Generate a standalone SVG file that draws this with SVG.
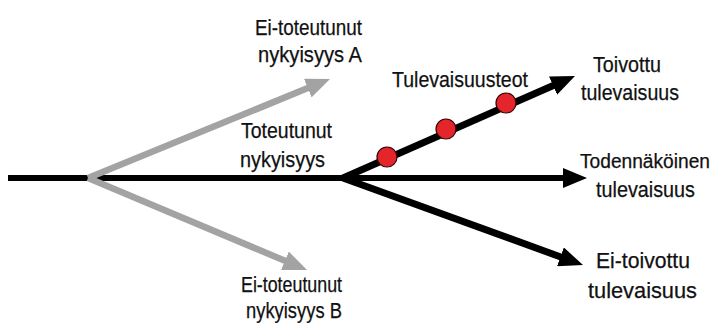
<svg xmlns="http://www.w3.org/2000/svg" width="717" height="323" viewBox="0 0 717 323">
<style>
.lbl{font-family:"Liberation Sans",Arial,sans-serif;font-size:22px;fill:#111;stroke:#111;stroke-width:0.25}
.blk{stroke:#000;fill:none;stroke-linecap:butt}
.gry{stroke:#a3a3a3;fill:none;stroke-width:6.5}
.dot{fill:#e4252b;stroke:#300;stroke-width:1.2}
</style>
<defs>
<marker id="hb" viewBox="0 0 24 20" refX="4" refY="10" markerWidth="24" markerHeight="20" markerUnits="userSpaceOnUse" orient="auto">
<path d="M0,0 L24,10 L0,20 z" fill="#000"/>
</marker>
<marker id="hg" viewBox="0 0 24 20" refX="4" refY="10" markerWidth="24" markerHeight="20" markerUnits="userSpaceOnUse" orient="auto">
<path d="M0,0 L24,10 L0,20 z" fill="#a3a3a3"/>
</marker>
</defs>
<g id="connectors">
<line class="blk" x1="8" y1="178" x2="567" y2="178" stroke-width="6" marker-end="url(#hb)"/>
<line class="gry" x1="88" y1="178" x2="311.5" y2="86.6" marker-end="url(#hg)"/>
<line class="gry" x1="88" y1="178" x2="288.6" y2="262.3" marker-end="url(#hg)"/>
<line class="blk" x1="343" y1="178" x2="556.7" y2="84" stroke-width="7" marker-end="url(#hb)"/>
<line class="blk" x1="343" y1="178" x2="564.2" y2="258.2" stroke-width="7" marker-end="url(#hb)"/>
</g>
<g id="tulevaisuusteot">
<circle class="dot" cx="387" cy="157" r="10"/>
<circle class="dot" cx="446" cy="129" r="10"/>
<circle class="dot" cx="506" cy="103" r="10"/>
<text class="lbl" x="392" y="87" textLength="136" lengthAdjust="spacingAndGlyphs">Tulevaisuusteot</text>
</g>
<g id="ei-toteutunut-a">
<text class="lbl" x="255" y="35" textLength="107" lengthAdjust="spacingAndGlyphs">Ei-toteutunut</text>
<text class="lbl" x="258" y="62" textLength="104" lengthAdjust="spacingAndGlyphs">nykyisyys A</text>
</g>
<g id="toteutunut">
<text class="lbl" x="241" y="138" textLength="91" lengthAdjust="spacingAndGlyphs">Toteutunut</text>
<text class="lbl" x="240" y="167" textLength="85" lengthAdjust="spacingAndGlyphs">nykyisyys</text>
</g>
<g id="ei-toteutunut-b">
<text class="lbl" x="241" y="292" textLength="101" lengthAdjust="spacingAndGlyphs">Ei-toteutunut</text>
<text class="lbl" x="246" y="318" textLength="96" lengthAdjust="spacingAndGlyphs">nykyisyys B</text>
</g>
<g id="toivottu">
<text class="lbl" x="593" y="72" textLength="68" lengthAdjust="spacingAndGlyphs">Toivottu</text>
<text class="lbl" x="581" y="100" textLength="98" lengthAdjust="spacingAndGlyphs">tulevaisuus</text>
</g>
<g id="todennakoinen">
<text class="lbl" x="580" y="168" style="font-size:20px" textLength="130" lengthAdjust="spacingAndGlyphs">Todennäköinen</text>
<text class="lbl" x="596" y="197" textLength="99" lengthAdjust="spacingAndGlyphs">tulevaisuus</text>
</g>
<g id="ei-toivottu">
<text class="lbl" x="596" y="268" textLength="94" lengthAdjust="spacingAndGlyphs">Ei-toivottu</text>
<text class="lbl" x="588" y="298" textLength="109" lengthAdjust="spacingAndGlyphs">tulevaisuus</text>
</g>
</svg>
